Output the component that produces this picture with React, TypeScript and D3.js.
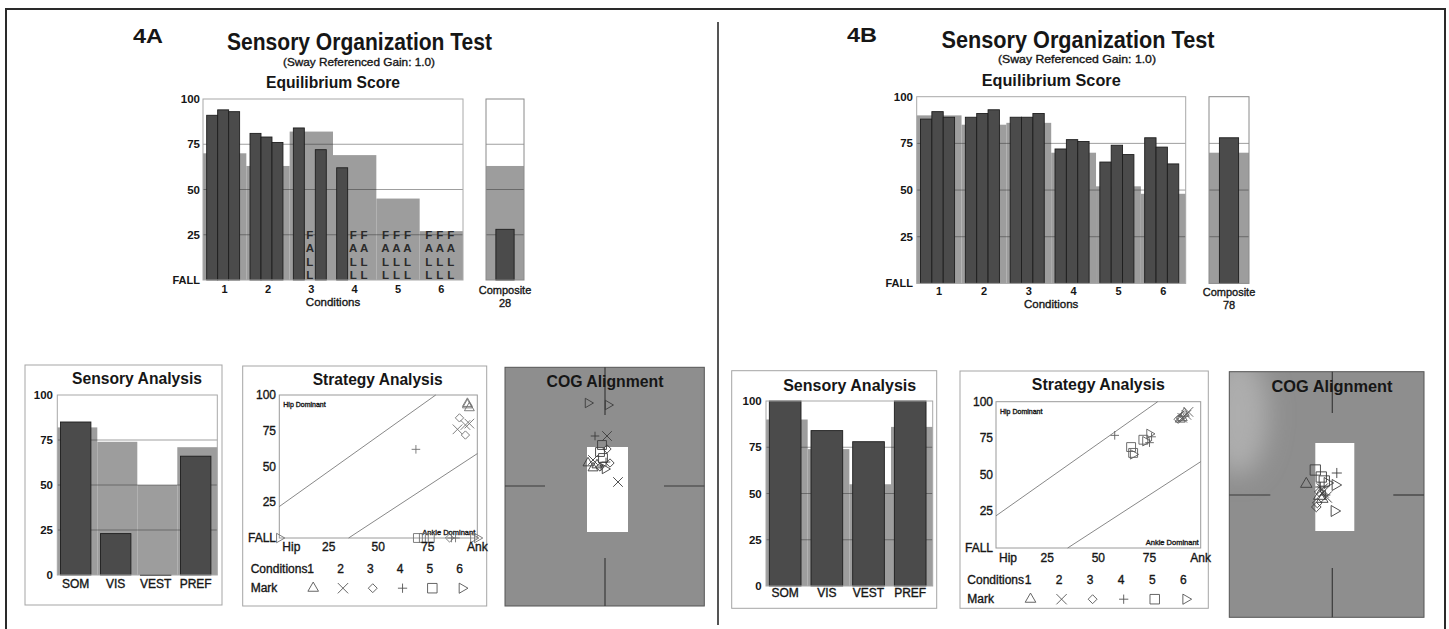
import React from "react";
import * as d3 from "d3";

const FONT = "'Liberation Sans', Arial, Helvetica, sans-serif";

const CONDITIONS = ["1", "2", "3", "4", "5", "6"];
const TRIALS = ["t1", "t2", "t3"];
const EQ_TICKS = [100, 75, 50, 25];
const GRID_TICKS = [75, 50, 25];
const SENSORY = ["SOM", "VIS", "VEST", "PREF"];
const SENS_TICKS = [100, 75, 50, 25, 0];
const STRAT_Y_TICKS = [100, 75, 50, 25];
const STRAT_X_TICKS = [25, 50, 75];
const MARKS = ["triangle", "times", "diamond", "plus", "square", "play"];
const FALL_LETTERS = ["F", "A", "L", "L"];

// 4A
const A_NORM = [70, 63, 82, 69, 45, 27];
const A_TRIALS = [
  [91, 94, 93],
  [81, 79, 76],
  [84, null, 72],
  [62, null, null],
  [null, null, null],
  [null, null, null],
];
const A_COMPOSITE = 28;
const A_COMPOSITE_NORM = 63;
const A_SENS = [85, 23, 0, 66];
const A_SENS_NORM = [82, 74, 50, 71];
// [condition, ankle %, score]
const A_STRATEGY = [
  [1, 95, 94], [1, 96, 91], [1, 95, 93],
  [2, 96, 80], [2, 90, 76], [2, 94, 79],
  [3, 91, 84], [3, 86, 0], [3, 94, 72],
  [4, 69, 62], [4, 87, 0], [4, 89, 0],
  [5, 70, 0], [5, 73, 0], [5, 76, 0],
  [6, 0, 0], [6, 98, 0], [6, 100, 0],
];
// [condition, x, y]
const A_COG = [
  [6, -1.7, 8.3], [6, 0.3, 8.1], [4, -1.0, 5.0], [2, 0.2, 5.0],
  [5, -0.3, 4.1], [3, 0.2, 3.7], [5, -0.5, 3.4], [1, -1.7, 2.3],
  [2, -1.2, 2.6], [3, 0.5, 2.3], [3, -0.5, 1.9], [4, -0.4, 2.0],
  [1, -0.8, 2.1], [5, -0.2, 2.8], [2, 1.3, 0.4], [1, -1.2, 1.8],
  [6, 0.0, 1.7], [4, 0.1, 2.4],
];
const A_COG_LIMITS = [-1.8, 2.3, -4.6, 3.9];

// 4B
const B_NORM = [90, 85, 86, 70, 52, 48];
const B_TRIALS = [
  [88, 92, 89],
  [89, 91, 93],
  [89, 89, 91],
  [72, 77, 76],
  [65, 74, 69],
  [78, 73, 64],
];
const B_COMPOSITE = 78;
const B_COMPOSITE_NORM = 70;
const B_SENS = [100, 84, 78, 100];
const B_SENS_NORM = [90, 74, 55, 86];
const B_STRATEGY = [
  [1, 90, 88], [1, 92, 92], [1, 91, 89],
  [2, 91, 89], [2, 93, 91], [2, 94, 93],
  [3, 90, 89], [3, 89, 88], [3, 92, 91],
  [4, 75, 72], [4, 58, 77], [4, 76, 76],
  [5, 67, 65], [5, 72, 74], [5, 66, 69],
  [6, 75, 78], [6, 73, 73], [6, 67, 64],
];
const B_COG = [
  [5, -1.7, 2.5], [1, -2.6, 1.1], [4, 0.45, 2.2], [6, 0.3, 1.0],
  [6, 0.2, -1.6], [5, -1.1, 1.8], [3, -1.3, 0.3], [3, -1.5, -0.8],
  [2, -0.9, 0.3], [4, -1.2, 0.8], [1, -1.0, -0.4], [2, -0.6, -0.2],
  [3, -1.6, -1.2], [5, -0.8, 1.4], [1, -1.3, -0.1], [2, -1.0, 0.6],
  [4, -0.7, 0.0], [6, -0.5, 1.2],
];
const B_COG_LIMITS = [-1.7, 2.2, -3.6, 5.2];

const DARK = "#4b4b4b";
const DARK_EDGE = "#1e1e1e";
const LIGHT = "#9d9d9d";
const INK = "#161616";

const SYMBOL_TYPES = {
  triangle: d3.symbolTriangle2,
  times: d3.symbolTimes,
  diamond: d3.symbolDiamond2,
  plus: d3.symbolPlus,
  square: d3.symbolSquare2,
  play: d3.symbolTriangle2,
};
const SYMBOL_SIZE = { triangle: 70, times: 62, diamond: 44, plus: 26, square: 100, play: 64 };

function Mark({ type, x, y, color, scale = 1 }) {
  const d = d3.symbol().type(SYMBOL_TYPES[type]).size(SYMBOL_SIZE[type] * scale)();
  const rot = type === "play" ? 90 : 0;
  return (
    <path d={d} transform={`translate(${x},${y}) rotate(${rot})`} fill="none" stroke={color} strokeWidth={0.9} />
  );
}

// regular text gets a hairline stroke so it reads as heavy as the scanned labels
function T({ x, y, size = 12, bold = false, anchor = "start", len = undefined, fill = INK, children }) {
  return (
    <text
      x={x}
      y={y}
      fontSize={size}
      fontWeight={bold ? "bold" : "normal"}
      textAnchor={anchor}
      fill={fill}
      stroke={bold ? "none" : fill}
      strokeWidth={bold ? 0 : 0.35}
      textLength={len}
      lengthAdjust={len ? "spacingAndGlyphs" : undefined}
    >
      {children}
    </text>
  );
}

function Equilibrium({ L, norm, trials, composite, compositeNorm }) {
  const y = d3.scaleLinear().domain([0, 100]).range([L.bottom, L.top]);
  const x = d3.scaleBand().domain(CONDITIONS).range([L.left, L.right]);
  const bw = x.bandwidth();
  const tx = d3.scaleBand().domain(TRIALS).range([bw * 0.085, bw * 0.845]);
  const cx = d3.scaleLinear().domain([0, 1]).range([L.compLeft, L.compRight]);

  return (
    <g>
      {CONDITIONS.map((c, i) => (
        <rect key={c} x={x(c)} y={y(norm[i])} width={bw} height={y(0) - y(norm[i])} fill={LIGHT} />
      ))}
      {GRID_TICKS.map((t) => (
        <line key={t} x1={L.left} x2={L.right} y1={y(t)} y2={y(t)} stroke="#2a2a2a" strokeOpacity={0.45} />
      ))}
      {CONDITIONS.map((c, i) =>
        TRIALS.map((t, j) => {
          const v = trials[i][j];
          const x0 = x(c) + tx(t);
          if (v === null) {
            return (
              <g key={c + t}>
                {FALL_LETTERS.map((ch, k) => (
                  <T key={k} x={x0 + tx.bandwidth() / 2} y={L.bottom - 5 - (3 - k) * 13.3 + 4} size={11.5} bold anchor="middle" fill="#2a2a2a">
                    {ch}
                  </T>
                ))}
              </g>
            );
          }
          return (
            <rect key={c + t} x={x0} y={y(v)} width={tx.bandwidth()} height={y(0) - y(v)} fill={DARK} stroke={DARK_EDGE} strokeWidth={0.9} />
          );
        })
      )}
      <rect x={L.left} y={L.top} width={L.right - L.left} height={L.bottom - L.top} fill="none" stroke="#a8a8a8" />

      {/* composite */}
      <rect x={cx(0)} y={y(compositeNorm)} width={cx(1) - cx(0)} height={y(0) - y(compositeNorm)} fill={LIGHT} />
      {GRID_TICKS.map((t) => (
        <line key={t} x1={cx(0)} x2={cx(1)} y1={y(t)} y2={y(t)} stroke="#2a2a2a" strokeOpacity={0.45} />
      ))}
      <rect x={cx(0.26)} y={y(composite)} width={cx(0.74) - cx(0.26)} height={y(0) - y(composite)} fill={DARK} stroke={DARK_EDGE} strokeWidth={0.9} />
      <rect x={cx(0)} y={L.top} width={cx(1) - cx(0)} height={L.bottom - L.top} fill="none" stroke="#8a8a8a" />

      {EQ_TICKS.map((t) => (
        <T key={t} x={L.tickRight} y={y(t) + 4} size={11.5} bold anchor="end">{t}</T>
      ))}
      <T x={L.tickRight} y={y(0) + 4} size={11} bold anchor="end">FALL</T>
      {CONDITIONS.map((c) => (
        <T key={c} x={x(c) + bw / 2} y={L.condY} size={11} bold anchor="middle">{c}</T>
      ))}
      <T x={(L.left + L.right) / 2} y={L.conditionsY} size={11.5} anchor="middle">Conditions</T>
      <T x={(cx(0) + cx(1)) / 2} y={L.compY} size={11} anchor="middle">Composite</T>
      <T x={(cx(0) + cx(1)) / 2} y={L.compValY} size={11} anchor="middle">{composite}</T>

      <T x={L.panelX} y={L.panelY} size={21} bold len={30}>{L.panel}</T>
      <T x={L.titleX} y={L.titleY} size={23} bold anchor="middle" len={L.titleLen}>Sensory Organization Test</T>
      <T x={L.subX} y={L.subY} size={11.5} anchor="middle" len={L.subLen}>(Sway Referenced Gain: 1.0)</T>
      <T x={(L.left + L.right) / 2} y={L.eqY} size={16} bold anchor="middle" len={L.eqLen}>Equilibrium Score</T>
    </g>
  );
}

function Sensory({ L, values, norm }) {
  const y = d3.scaleLinear().domain([0, 100]).range([L.bottom, L.top]);
  const x = d3.scaleBand().domain(SENSORY).range([L.left, L.right]);
  const bw = x.bandwidth();
  return (
    <g>
      <rect x={L.box[0]} y={L.box[1]} width={L.box[2] - L.box[0]} height={L.box[3] - L.box[1]} fill="#fff" stroke="#a5a5a5" />
      {SENSORY.map((s, i) => (
        <rect key={s} x={x(s)} y={y(norm[i])} width={bw} height={y(0) - y(norm[i])} fill={LIGHT} />
      ))}
      {GRID_TICKS.map((t) => (
        <line key={t} x1={L.left} x2={L.right} y1={y(t)} y2={y(t)} stroke="#2a2a2a" strokeOpacity={0.45} />
      ))}
      {SENSORY.map((s, i) => (
        <rect key={s} x={x(s) + bw * 0.08} y={y(values[i])} width={bw * 0.76} height={Math.max(0.5, y(0) - y(values[i]))} fill={DARK} stroke={DARK_EDGE} strokeWidth={0.9} />
      ))}
      <rect x={L.left} y={L.top} width={L.right - L.left} height={L.bottom - L.top} fill="none" stroke="#a8a8a8" />
      {SENS_TICKS.map((t) => (
        <T key={t} x={L.tickRight} y={y(t) + 4} size={11.5} bold anchor="end">{t}</T>
      ))}
      {SENSORY.map((s) => (
        <T key={s} x={x(s) + bw * 0.46} y={L.labelY} size={12} anchor="middle">{s}</T>
      ))}
      <T x={L.titleX} y={L.titleY} size={16} bold anchor="middle" len={L.titleLen}>Sensory Analysis</T>
    </g>
  );
}

function Strategy({ L, points, color }) {
  const x = d3.scaleLinear().domain([0, 100]).range([L.left, L.right]);
  const y = d3.scaleLinear().domain([0, 100]).range([L.bottom, L.top]);
  const cond = d3.scalePoint().domain(CONDITIONS).range(L.condRange);
  return (
    <g>
      <rect x={L.box[0]} y={L.box[1]} width={L.box[2] - L.box[0]} height={L.box[3] - L.box[1]} fill="#fff" stroke="#a5a5a5" />
      <rect x={L.left} y={L.top} width={L.right - L.left} height={L.bottom - L.top} fill="none" stroke="#9a9a9a" />
      <line x1={x(0)} y1={y(22)} x2={x(79)} y2={y(100)} stroke="#6a6a6a" strokeWidth={0.8} />
      <line x1={x(35)} y1={y(0)} x2={x(100)} y2={y(59)} stroke="#6a6a6a" strokeWidth={0.8} />
      <T x={L.left + 4} y={L.top + 12} size={7}>Hip Dominant</T>
      <T x={L.right - 2} y={L.bottom - 3} size={7.5} anchor="end">Ankle Dominant</T>
      {points.map((p, i) => (
        <Mark key={i} type={MARKS[p[0] - 1]} x={x(p[1])} y={y(p[2])} color={color} />
      ))}
      {STRAT_Y_TICKS.map((t) => (
        <T key={t} x={L.tickRight} y={y(t) + 4} size={12} anchor="end">{t}</T>
      ))}
      <T x={L.tickRight} y={y(0) + 4} size={12} anchor="end">FALL</T>
      <T x={L.left + 3} y={L.xLabelY} size={12}>Hip</T>
      {STRAT_X_TICKS.map((t) => (
        <T key={t} x={x(t)} y={L.xLabelY} size={12} anchor="middle">{t}</T>
      ))}
      <T x={x(100)} y={L.xLabelY} size={12} anchor="middle">Ank</T>
      <T x={L.rowX} y={L.condY} size={12}>Conditions</T>
      {CONDITIONS.map((c) => (
        <T key={c} x={cond(c)} y={L.condY} size={12} anchor="middle">{c}</T>
      ))}
      <T x={L.rowX} y={L.markY} size={12}>Mark</T>
      {CONDITIONS.map((c, i) => (
        <Mark key={c} type={MARKS[i]} x={cond(c) + L.markDx} y={L.markY - 3.5} color="#555" scale={1.15} />
      ))}
      <T x={L.titleX} y={L.titleY} size={16} bold anchor="middle" len={L.titleLen}>Strategy Analysis</T>
    </g>
  );
}

function Cog({ L, points, limits, id }) {
  const x = d3.scaleLinear().domain([-1, 1]).range([L.cx - L.unit, L.cx + L.unit]);
  const y = d3.scaleLinear().domain([-1, 1]).range([L.cy + L.unit, L.cy - L.unit]);
  const [bx0, by0, bx1, by1] = L.box;
  return (
    <g>
      <defs>
        <clipPath id={"clip" + id}>
          <rect x={bx0} y={by0} width={bx1 - bx0} height={by1 - by0} />
        </clipPath>
        <filter id={"blur" + id} x="-80%" y="-80%" width="260%" height="260%">
          <feGaussianBlur stdDeviation={12} />
        </filter>
      </defs>
      <rect x={bx0} y={by0} width={bx1 - bx0} height={by1 - by0} fill="#8e8e8e" />
      {L.blob && (
        <g clipPath={`url(#clip${id})`}>
          <ellipse cx={L.blob[0]} cy={L.blob[1]} rx={L.blob[2]} ry={L.blob[3]} fill="#adadad" filter={`url(#blur${id})`} />
        </g>
      )}
      <rect x={bx0} y={by0} width={bx1 - bx0} height={by1 - by0} fill="none" stroke="#555" />
      <line x1={L.cx} x2={L.cx} y1={by0} y2={y(L.gaps[0])} stroke="#3a3a3a" strokeWidth={1.2} />
      <line x1={L.cx} x2={L.cx} y1={y(-L.gaps[1])} y2={by1} stroke="#3a3a3a" strokeWidth={1.2} />
      <line x1={bx0} x2={x(-L.gaps[2])} y1={L.cy} y2={L.cy} stroke="#3a3a3a" strokeWidth={1.2} />
      <line x1={x(L.gaps[3])} x2={bx1} y1={L.cy} y2={L.cy} stroke="#3a3a3a" strokeWidth={1.2} />
      <rect x={x(limits[0])} y={y(limits[3])} width={x(limits[1]) - x(limits[0])} height={y(limits[2]) - y(limits[3])} fill="#fff" />
      {points.map((p, i) => (
        <Mark key={i} type={MARKS[p[0] - 1]} x={x(p[1])} y={y(p[2])} color="#3c3c3c" scale={L.markScale} />
      ))}
      <T x={L.titleX} y={L.titleY} size={16} bold anchor="middle" len={L.titleLen}>COG Alignment</T>
    </g>
  );
}

const EQ_A = {
  left: 203, right: 463, top: 99, bottom: 280, compLeft: 486, compRight: 524,
  tickRight: 200, condY: 293, conditionsY: 305.5, compY: 294, compValY: 306.5,
  panel: "4A", panelX: 133, panelY: 43, titleX: 359.5, titleY: 50, titleLen: 265,
  subX: 359, subY: 66, subLen: 152, eqY: 88, eqLen: 134,
};
const EQ_B = {
  left: 916.7, right: 1185.7, top: 96.7, bottom: 283.4, compLeft: 1209, compRight: 1249,
  tickRight: 913, condY: 295, conditionsY: 308, compY: 296, compValY: 308.5,
  panel: "4B", panelX: 847, panelY: 42, titleX: 1078, titleY: 48, titleLen: 273,
  subX: 1077, subY: 63, subLen: 158, eqY: 86, eqLen: 139,
};
const SENS_A = {
  box: [25, 365, 222, 605], left: 57.3, right: 217.3, top: 395, bottom: 575,
  tickRight: 53, labelY: 588, titleX: 137, titleY: 384, titleLen: 130,
};
const SENS_B = {
  box: [731.7, 370.7, 936.7, 608.3], left: 766, right: 932.7, top: 401, bottom: 586,
  tickRight: 761.7, labelY: 597, titleX: 849.7, titleY: 390.7, titleLen: 133,
};
const STRAT_A = {
  box: [242.7, 366, 486.7, 606], left: 279.3, right: 477.3, top: 395, bottom: 538,
  tickRight: 276, xLabelY: 550.7, rowX: 250.7, condY: 573.3, markY: 591.7,
  condRange: [310.7, 459.6], markDx: 2.5, titleX: 377.7, titleY: 385, titleLen: 130,
};
const STRAT_B = {
  box: [960, 371, 1208.3, 608.3], left: 996, right: 1200.7, top: 401.7, bottom: 548,
  tickRight: 993, xLabelY: 561.7, rowX: 967.3, condY: 584, markY: 602.7,
  condRange: [1028, 1183.3], markDx: 2.5, titleX: 1098.3, titleY: 390, titleLen: 133,
};
const COG_A = {
  box: [505, 367.3, 704.3, 606], cx: 605, cy: 486, unit: 10, gaps: [7.1, 7.2, 6, 5.9],
  titleX: 605, titleY: 386.7, titleLen: 117, markScale: 1, blob: null,
};
const COG_B = {
  box: [1229.3, 371.7, 1424, 617.3], cx: 1332.3, cy: 495, unit: 10, gaps: [8.2, 7.3, 6.2, 6.1],
  titleX: 1332, titleY: 391.7, titleLen: 121, markScale: 1.35, blob: [1238, 415, 30, 60],
};

export default function App() {
  return (
    <svg
      width={1449}
      height={629}
      style={{ position: "absolute", left: 0, top: 0, background: "#fff", display: "block" }}
      fontFamily={FONT}
    >
      <rect x={0} y={0} width={1449} height={629} fill="#fff" />
      <line x1={5} x2={1446} y1={9} y2={9} stroke="#2a2a2a" strokeWidth={2} />
      <line x1={6} x2={6} y1={9} y2={629} stroke="#2a2a2a" strokeWidth={2} />
      <line x1={1445} x2={1445} y1={9} y2={629} stroke="#2a2a2a" strokeWidth={2} />
      <line x1={718} x2={718} y1={22} y2={625} stroke="#555" strokeWidth={2} />

      <Equilibrium L={EQ_A} norm={A_NORM} trials={A_TRIALS} composite={A_COMPOSITE} compositeNorm={A_COMPOSITE_NORM} />
      <Equilibrium L={EQ_B} norm={B_NORM} trials={B_TRIALS} composite={B_COMPOSITE} compositeNorm={B_COMPOSITE_NORM} />
      <Sensory L={SENS_A} values={A_SENS} norm={A_SENS_NORM} />
      <Sensory L={SENS_B} values={B_SENS} norm={B_SENS_NORM} />
      <Strategy L={STRAT_A} points={A_STRATEGY} color="#707070" />
      <Strategy L={STRAT_B} points={B_STRATEGY} color="#5e5e5e" />
      <Cog L={COG_A} points={A_COG} limits={A_COG_LIMITS} id="a" />
      <Cog L={COG_B} points={B_COG} limits={B_COG_LIMITS} id="b" />
    </svg>
  );
}
